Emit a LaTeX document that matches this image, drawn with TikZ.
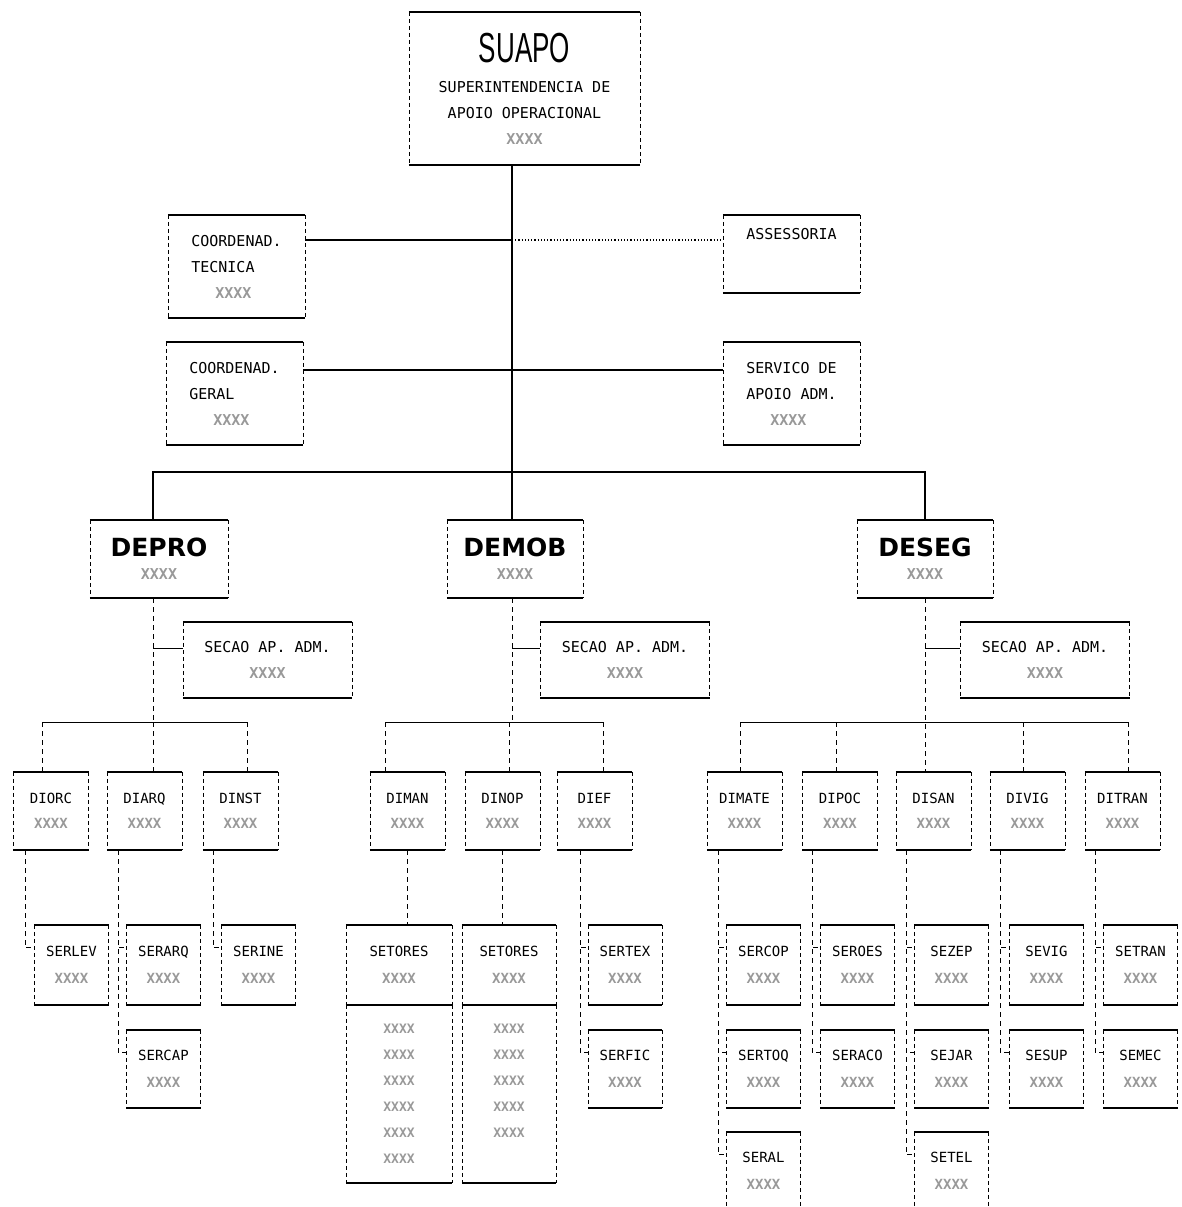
\documentclass[tikz,border=0pt]{standalone}
\usepackage{fontspec}
\setmainfont{DejaVu Sans Mono}
\newfontfamily\headfont{DejaVu Sans}
\newfontfamily\tallfont{Liberation Sans}
\usetikzlibrary{calc,positioning}

\newcommand\code{{\color{black!40}\bfseries XXXX}}

\begin{document}
\begin{tikzpicture}[x=1pt,y=-1pt,
    unit/.style={inner sep=2pt,font=\fontsize{15}{26}\selectfont},
    dept/.style={unit,align=center,minimum width=137pt,minimum height=78pt,font=\fontsize{15}{23}\selectfont},
    secbox/.style={unit,align=center,minimum width=169pt,minimum height=76pt},
    divbox/.style={unit,align=center,minimum width=75pt,minimum height=78pt,font=\fontsize{14}{25}\selectfont},
    svc/.style={unit,align=center,minimum width=74pt,minimum height=80pt,font=\fontsize{14}{27}\selectfont},
    svcb/.style={svc,minimum height=78pt},
    rim/.style={line width=1.6pt},
    side/.style={line width=0.6pt,dash pattern=on 4pt off 3pt},
    link/.style={line width=1.2pt},
    thinlink/.style={line width=0.9pt},
    sub/.style={line width=0.7pt,dash pattern=on 5pt off 4pt}]
\useasboundingbox (0,0) rectangle (1182,1207);

% top
\node[unit,align=center,minimum width=231pt,minimum height=153pt] (suapo) at (524.5,88.5)
  {\scalebox{0.62}[1]{\tallfont\fontsize{42}{42}\selectfont SUAPO}\\[4pt]
   SUPERINTENDENCIA DE\\APOIO OPERACIONAL\\\code};
\node[unit,align=left,minimum width=137pt,minimum height=103pt] (tecn) at (236.5,266.5)
  {COORDENAD.\\TECNICA\\\hspace*{24pt}\code};
\node[unit,minimum width=137pt,minimum height=78pt,text depth=40pt] (asse) at (791.5,254) {ASSESSORIA};
\node[unit,align=left,minimum width=137pt,minimum height=103pt] (geral) at (234.5,393.5)
  {COORDENAD.\\GERAL\\\hspace*{24pt}\code};
\node[unit,align=left,minimum width=137pt,minimum height=103pt] (apoio) at (791.5,393.5)
  {SERVICO DE\\APOIO ADM.\\\hspace*{24pt}\code};

% departamentos
\node[dept,minimum width=138pt] (depro) at (159,559) {{\headfont\bfseries\fontsize{25}{25}\selectfont DEPRO}\\\code};
\node[dept,minimum width=136pt] (demob) at (515,559) {{\headfont\bfseries\fontsize{25}{25}\selectfont DEMOB}\\\code};
\node[dept,minimum width=136pt] (deseg) at (925,559) {{\headfont\bfseries\fontsize{25}{25}\selectfont DESEG}\\\code};

\node[secbox] (secpro) at (267.5,660) {SECAO AP. ADM.\\\code};
\node[secbox] (secmob) at (625,660) {SECAO AP. ADM.\\\code};
\node[secbox] (secseg) at (1045,660) {SECAO AP. ADM.\\\code};

% divisoes
\foreach \nm/\lab/\x in {diorc/DIORC/51, diarq/DIARQ/144.5, dinst/DINST/240.5,
    diman/DIMAN/407.5, dinop/DINOP/502.5, dief/DIEF/594.5,
    dimate/DIMATE/744.5, dipoc/DIPOC/840, disan/DISAN/933.5, divig/DIVIG/1027.5, ditran/DITRAN/1122.5}
  \node[divbox] (\nm) at (\x,811) {\lab\\\code};

% servicos
\foreach \nm/\lab/\x in {serlev/SERLEV/71.5, serarq/SERARQ/163.5, serine/SERINE/258.5, sertex/SERTEX/625,
    sercop/SERCOP/763.5, seroes/SEROES/857.5, sezep/SEZEP/951.5, sevig/SEVIG/1046.5, setran/SETRAN/1140.5}
  \node[svc] (\nm) at (\x,965) {\lab\\\code};
\foreach \nm/\lab/\x in {sercap/SERCAP/163.5, serfic/SERFIC/625, sertoq/SERTOQ/763.5, seraco/SERACO/857.5,
    sejar/SEJAR/951.5, sesup/SESUP/1046.5, semec/SEMEC/1140.5}
  \node[svcb] (\nm) at (\x,1069) {\lab\\\code};
\foreach \nm/\lab/\x in {seral/SERAL/763.5, setel/SETEL/951.5}
  \node[svcb] (\nm) at (\x,1171) {\lab\\\code};

\node[svc,minimum width=106pt] (setm1) at (399,965) {SETORES\\\code};
\node[svc,minimum width=94pt] (setm2) at (509,965) {SETORES\\\code};
\node[unit,align=left,minimum width=106pt,minimum height=178pt,font=\fontsize{13}{26}\selectfont] (notm1) at (399,1094)
  {\code\\\code\\\code\\\code\\\code\\\code};
\node[unit,align=left,minimum width=94pt,minimum height=178pt,font=\fontsize{13}{26}\selectfont] (notm2) at (509,1094)
  {\code\\\code\\\code\\\code\\\code\\\mbox{}};

% molduras
\foreach \n in {suapo,tecn,asse,geral,apoio,depro,demob,deseg,secpro,secmob,secseg,
    diorc,diarq,dinst,diman,dinop,dief,dimate,dipoc,disan,divig,ditran,
    serlev,serarq,serine,sertex,sercop,seroes,sezep,sevig,setran,
    sercap,serfic,sertoq,seraco,sejar,sesup,semec,seral,setel,setm1,setm2,notm1,notm2} {
  \draw[rim] (\n.north west) -- (\n.north east) (\n.south west) -- (\n.south east);
  \draw[side] (\n.north west) -- (\n.south west) (\n.north east) -- (\n.south east);
}

% ligacoes
\coordinate (hub) at (512,472);
\coordinate (bl) at (153,472);
\coordinate (br) at (925,472);
\coordinate (ct) at (512,240);
\coordinate (cg) at (512,370);
\draw[link] (hub |- suapo.south) -- (hub |- demob.north);
\draw[link] (bl |- depro.north) -- (bl) -- (br) -- (br |- deseg.north);
\draw[link] (tecn.east |- ct) -- (ct);
\draw[link,dotted] (ct) -- (asse.west |- ct);
\draw[link] (geral.east |- cg) -- (apoio.west |- cg);

% DEPRO
\coordinate (pb) at (153,722);
\draw[sub] (bl |- depro.south) -- (pb);
\draw[thinlink] ([yshift=12pt]secpro.west -| pb) -- ([yshift=12pt]secpro.west);
\draw[thinlink] (42,722) -- (247,722);
\foreach \x/\n in {42/diorc,153/diarq,247/dinst}
  \draw[sub] (\x,722) -- (\n.north -| \x,0);

% DEMOB
\coordinate (mb) at (512,722);
\draw[sub] (hub |- demob.south) -- (mb);
\draw[thinlink] ([yshift=12pt]secmob.west -| mb) -- ([yshift=12pt]secmob.west);
\draw[thinlink] (385,722) -- (603,722);
\foreach \x/\n in {385/diman,509/dinop,603/dief}
  \draw[sub] (\x,722) -- (\n.north -| \x,0);
\draw[sub] (diman.south) -- (diman.south |- setm1.north);
\draw[sub] (dinop.south) -- (dinop.south |- setm2.north);

% DESEG
\draw[sub] (br |- deseg.south) -- (br |- disan.north);
\draw[thinlink] ([yshift=12pt]secseg.west -| br) -- ([yshift=12pt]secseg.west);
\draw[thinlink] (740,722) -- (1128,722);
\foreach \x/\n in {740/dimate,836/dipoc,1023/divig,1128/ditran}
  \draw[sub] (\x,722) -- (\n.north -| \x,0);

% servicos
\foreach \p/\c/\x in {diorc/serlev/25, diarq/serarq/118, diarq/sercap/118, dinst/serine/213,
    dief/sertex/580, dief/serfic/580, dimate/sercop/718, dimate/sertoq/718, dimate/seral/718,
    dipoc/seroes/812, dipoc/seraco/812, disan/sezep/906, disan/sejar/906, disan/setel/906,
    divig/sevig/1000, divig/sesup/1000, ditran/setran/1095, ditran/semec/1095}
  \draw[sub] (\p.south -| \x,0) |- ([yshift=-23pt]\c.north west);
\end{tikzpicture}
\end{document}
